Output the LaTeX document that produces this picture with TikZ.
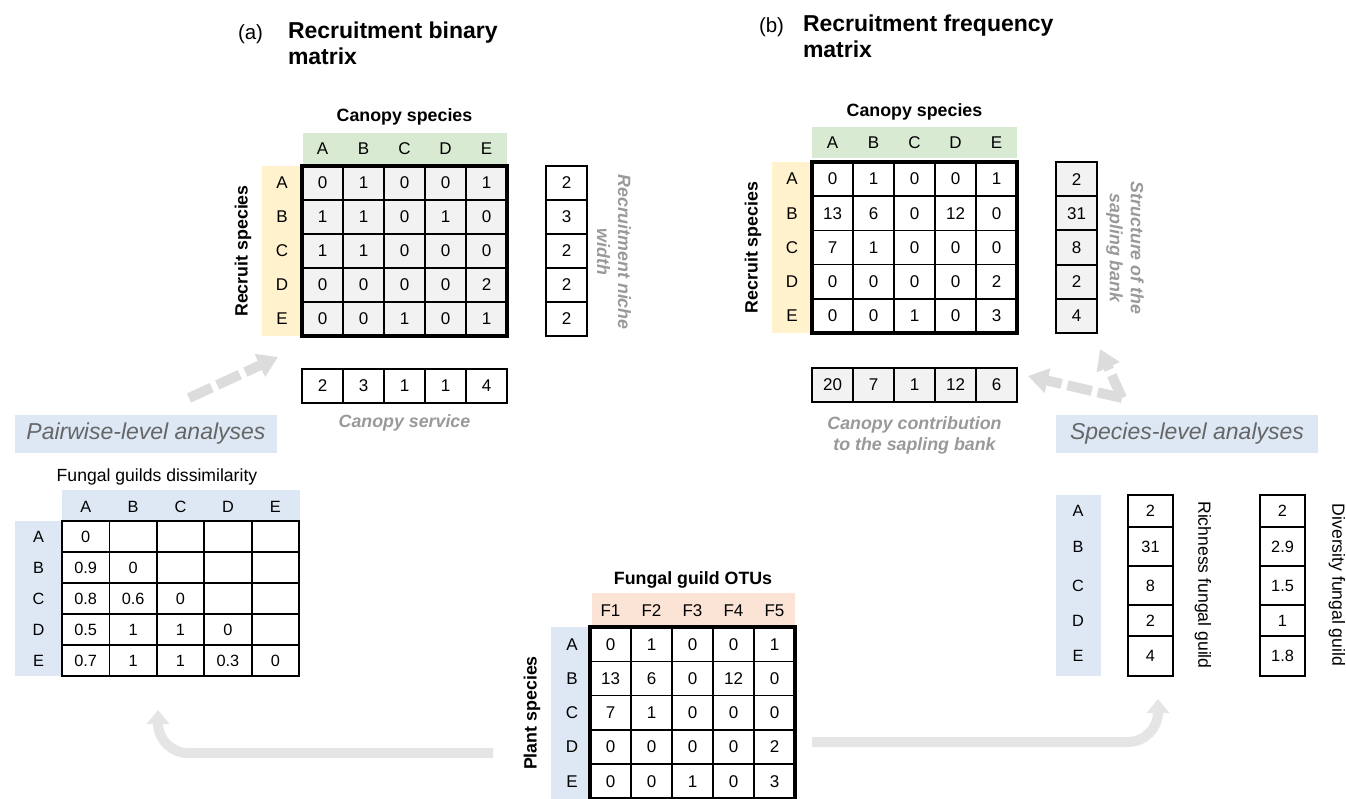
\documentclass[tikz,border=0pt]{standalone}
\usepackage{fontspec}
\setmainfont{Liberation Sans}
\usetikzlibrary{arrows.meta}
\definecolor{cellgray}{HTML}{F2F2F2}
\definecolor{hdrgreen}{HTML}{D9EAD3}
\definecolor{hdryellow}{HTML}{FFF2CC}
\definecolor{hdrblue}{HTML}{DDE8F4}
\definecolor{hdrpeach}{HTML}{FBE4D5}
\definecolor{labgray}{HTML}{999999}
\definecolor{boxtext}{HTML}{666666}
\definecolor{arrowgray}{HTML}{E5E5E5}
\definecolor{dashgray}{HTML}{DCDCDC}
\begin{document}
\begin{tikzpicture}[x=1pt,y=-1pt,
  every node/.style={inner sep=0pt,outer sep=0pt},
  txt/.style={font=\fontsize{17}{20}\selectfont},
  stxt/.style={font=\fontsize{16.3}{19}\selectfont},
  mcell/.style={txt,draw,line width=1.6pt,minimum width=41pt,minimum height=34pt},
  sidecell/.style={mcell,line width=2pt},
  boldlab/.style={font=\fontsize{17.8}{21}\selectfont\bfseries},
  reglab/.style={font=\fontsize{17.6}{21}\selectfont},
  glab/.style={font=\fontsize{17.8}{21}\selectfont\bfseries\itshape,text=labgray,align=center},
  titletext/.style={font=\fontsize{23}{26}\selectfont\bfseries,align=left},
  titlelab/.style={font=\fontsize{20.5}{24}\selectfont},
  anbox/.style={fill=hdrblue,text=boxtext,font=\fontsize{23}{26}\selectfont\itshape,minimum width=262pt,minimum height=38pt},
  dasharrow/.style={draw=dashgray,line width=10pt,dash pattern=on 25pt off 6pt,-{Triangle[width=24pt,length=20pt]}},
  bigarrow/.style={draw=arrowgray,line width=10pt,rounded corners=30pt,-{Triangle[width=22pt,length=14pt]}}
]
\useasboundingbox (0,0) rectangle (1346,798);

%%%%%%%%%%%%%%%% (a)
\node[titlelab,anchor=base west] (alab) at (238,39) {(a)};
\node[titletext,anchor=west] (atitle) at (288,43.6) {Recruitment binary\\matrix};
\node[boldlab,anchor=base] (acanopy) at (404.5,121.7) {Canopy species};
\node[fill=hdrgreen,minimum width=204pt,minimum height=31pt] (aband) at (404.5,148.5) {};
\foreach \l [count=\c] in {A,B,C,D,E}
  \node[txt] (ah\c) at ({302+41*(\c-0.5)},149) {\l};
\node[fill=hdryellow,minimum width=40pt,minimum height=170pt] (aside) at (282,251) {};
\foreach \l [count=\r] in {A,B,C,D,E}
  \node[txt] (ar\r) at (282,{166+34*(\r-0.5)}) {\l};
\node[boldlab,rotate=90] (arecruit) at (243,251) {Recruit species};
\foreach \vals [count=\r] in {{0,1,0,0,1},{1,1,0,1,0},{1,1,0,0,0},{0,0,0,0,2},{0,0,1,0,1}}{
  \foreach \v [count=\c] in \vals
    \node[mcell,fill=cellgray] (a-\r-\c) at ({302+41*(\c-0.5)},{166+34*(\r-0.5)}) {\v};
}
\draw[line width=4pt] (a-1-1.north west) rectangle (a-5-5.south east);
\foreach \v [count=\r] in {2,3,2,2,2}
  \node[sidecell,fill=white] (aw\r) at (566.5,{166+34*(\r-0.5)}) {\v};
\node[glab,rotate=-90] (aniche) at (614,252) {Recruitment niche\\width};
\foreach \v [count=\c] in {2,3,1,1,4}
  \node[sidecell,fill=white] (as\c) at ({302+41*(\c-0.5)},385.5) {\v};
\node[glab,anchor=base] (aserv) at (404.5,427.5) {Canopy service};

%%%%%%%%%%%%%%%% (b)
\node[titlelab,anchor=base west] (blab) at (759,32) {(b)};
\node[titletext,anchor=west] (btitle) at (803,36.6) {Recruitment frequency\\matrix};
\node[boldlab,anchor=base] (bcanopy) at (914.5,116.7) {Canopy species};
\node[fill=hdrgreen,minimum width=205pt,minimum height=31pt] (bband) at (914.5,142.5) {};
\foreach \l [count=\c] in {A,B,C,D,E}
  \node[txt] (bh\c) at ({812+41*(\c-0.5)},143) {\l};
\node[fill=hdryellow,minimum width=40pt,minimum height=171pt] (bside) at (792,247.5) {};
\foreach \l [count=\r] in {A,B,C,D,E}
  \node[txt] (br\r) at (792,{162+34.2*(\r-0.5)}) {\l};
\node[boldlab,rotate=90] (brecruit) at (753,247.5) {Recruit species};
\foreach \vals [count=\r] in {{0,1,0,0,1},{13,6,0,12,0},{7,1,0,0,0},{0,0,0,0,2},{0,0,1,0,3}}{
  \foreach \v [count=\c] in \vals
    \node[mcell,fill=white,minimum height=34.2pt] (b-\r-\c) at ({812+41*(\c-0.5)},{162+34.2*(\r-0.5)}) {\v};
}
\draw[line width=4pt] (b-1-1.north west) rectangle (b-5-5.south east);
\foreach \v [count=\r] in {2,31,8,2,4}
  \node[sidecell,fill=cellgray,minimum height=34.2pt] (bw\r) at (1076.5,{162+34.2*(\r-0.5)}) {\v};
\node[glab,rotate=-90] (bstruct) at (1125,248) {Structure of the\\sapling bank};
\foreach \v [count=\c] in {20,7,1,12,6}
  \node[sidecell,fill=cellgray] (bs\c) at ({812+41*(\c-0.5)},384.5) {\v};
\node[glab] (bcontrib) at (914.5,435) {Canopy contribution\\to the sapling bank};

%%%%%%%%%%%%%%%% analysis boxes
\node[anbox] (pairbox) at (146,434) {Pairwise-level analyses};
\node[anbox] (specbox) at (1187,434) {Species-level analyses};

%%%%%%%%%%%%%%%% dashed arrows
\coordinate (pa0) at (189,398);
\coordinate (pa1) at (278,357);
\draw[dasharrow] (pa0) -- (pa1);
\coordinate (sv) at (1122,398);
\coordinate (sl) at (1028,376);
\coordinate (su) at (1100,349);
\draw[dasharrow] (sv) -- (sl);
\draw[dasharrow] (sv) -- (su);

%%%%%%%%%%%%%%%% dissimilarity
\node[reglab,anchor=base] (dtitle) at (157,481) {Fungal guilds dissimilarity};
\node[fill=hdrblue,minimum width=238pt,minimum height=31pt] (dband) at (181,505.5) {};
\foreach \l [count=\c] in {A,B,C,D,E}
  \node[stxt] (dh\c) at ({62+47.4*(\c-0.5)},507) {\l};
\node[fill=hdrblue,minimum width=47pt,minimum height=155pt] (dside) at (38.5,598.5) {};
\foreach \l [count=\r] in {A,B,C,D,E}
  \node[stxt] (dr\r) at (38.5,{521+31*(\r-0.5)}) {\l};
\foreach \vals [count=\r] in {{0,{},{},{},{}},{0.9,0,{},{},{}},{0.8,0.6,0,{},{}},{0.5,1,1,0,{}},{0.7,1,1,0.3,0}}{
  \foreach \v [count=\c] in \vals
    \node[mcell,stxt,fill=white,line width=1.8pt,minimum width=47.4pt,minimum height=31pt] (d-\r-\c) at ({62+47.4*(\c-0.5)},{521+31*(\r-0.5)}) {\v};
}

%%%%%%%%%%%%%%%% OTU matrix
\node[boldlab,anchor=base] (otitle) at (693,584) {Fungal guild OTUs};
\node[fill=hdrpeach,minimum width=203pt,minimum height=32pt] (oband) at (693.5,609) {};
\foreach \l [count=\c] in {F1,F2,F3,F4,F5}
  \node[txt] (oh\c) at ({590+41*(\c-0.5)},611) {\l};
\node[fill=hdrblue,minimum width=39pt,minimum height=172pt] (oside) at (570.5,713) {};
\foreach \l [count=\r] in {A,B,C,D,E}
  \node[txt] (or\r) at (572,{627+34.3*(\r-0.5)}) {\l};
\node[boldlab,rotate=90] (oplant) at (532,713) {Plant species};
\foreach \vals [count=\r] in {{0,1,0,0,1},{13,6,0,12,0},{7,1,0,0,0},{0,0,0,0,2},{0,0,1,0,3}}{
  \foreach \v [count=\c] in \vals
    \node[mcell,fill=white,minimum height=34.3pt] (o-\r-\c) at ({590+41*(\c-0.5)},{627+34.3*(\r-0.5)}) {\v};
}
\draw[line width=4pt] (o-1-1.north west) rectangle (o-5-5.south east);

%%%%%%%%%%%%%%%% species level
\node[fill=hdrblue,minimum width=45pt,minimum height=181pt] (sside) at (1078.5,585.5) {};
\foreach \l/\cy/\h/\rv/\dv in {A/511/32/2/2,B/546.5/39/31/2.9,C/585.5/39/8/1.5,D/620.5/31/2/1,E/656/40/4/1.8}{
  \node[stxt] (sl\l) at (1078,\cy) {\l};
  \node[sidecell,stxt,fill=white,minimum width=45pt,minimum height=\h pt] (rich\l) at (1150.5,\cy) {\rv};
  \node[sidecell,stxt,fill=white,minimum width=45pt,minimum height=\h pt] (div\l) at (1282.5,\cy) {\dv};
}
\node[reglab,rotate=-90] (richlab) at (1203,585) {Richness fungal guild};
\node[reglab,rotate=-90] (divlab) at (1337,585) {Diversity fungal guild};

%%%%%%%%%%%%%%%% bottom arrows
\coordinate (la0) at (493,753);
\coordinate (la1) at (158,753);
\coordinate (la2) at (158,710);
\draw[bigarrow] (la0) -- (la1) -- (la2);
\coordinate (ra0) at (812,742);
\coordinate (ra1) at (1158,742);
\coordinate (ra2) at (1158,699);
\draw[bigarrow] (ra0) -- (ra1) -- (ra2);
\end{tikzpicture}
\end{document}
